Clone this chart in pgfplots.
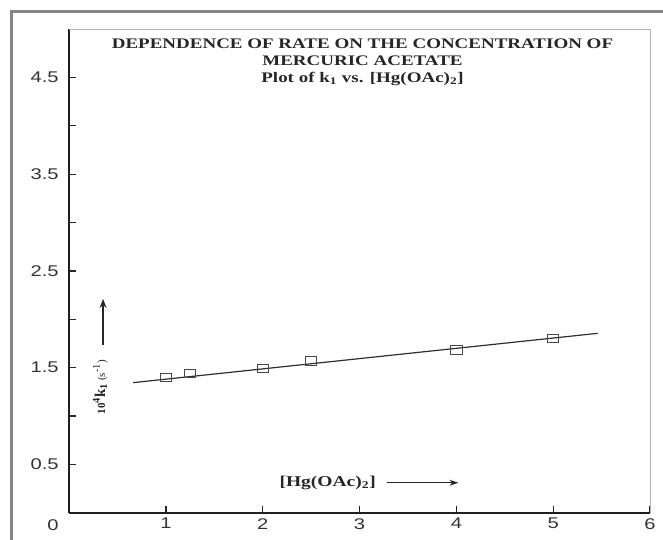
\documentclass[border=0pt]{standalone}
\usepackage{fontspec}
\setmainfont{Liberation Serif}
\newfontfamily\arial{Liberation Sans}
\usepackage{graphicx}
\usepackage{pgfplots}
\pgfplotsset{compat=1.18}
\usetikzlibrary{arrows.meta}
\newcommand\sx[1]{\scalebox{1.3}[1]{#1}}
\begin{document}
\begin{tikzpicture}[x=1pt,y=1pt]
\useasboundingbox (-69.2,-26.3) rectangle (593.8,512.7);
\draw[line width=3pt, black!48] (-57.2,-60) -- (-57.2,500.7) -- (640,500.7);
\begin{axis}[
  at={(0,0)}, anchor=south west,
  scale only axis, width=580.8pt, height=483.5pt,
  xmin=0, xmax=6, ymin=0, ymax=5,
  axis x line*=bottom, axis y line*=left,
  axis line style={line width=1.8pt, black!88},
  xtick={1,2,3,4,5,6},
  xticklabels={\sx{1},\sx{2},\sx{3},\sx{4},\sx{5},\sx{6}},
  ytick={0.5,1,1.5,2,2.5,3,3.5,4,4.5,5},
  yticklabels={\sx{0.5},,\sx{1.5},,\sx{2.5},,\sx{3.5},,\sx{4.5},},
  extra y ticks={0}, extra y tick labels={\sx{0}},
  extra y tick style={major tick length=0pt, yticklabel style={yshift=-12pt}},
  tick style={line width=1.1pt, black!85}, major tick length=7pt, tick align=inside,
  ticklabel style={font=\arial\fontsize{15.5}{15.5}\selectfont, text=black!80},
  yticklabel style={xshift=-7pt},
  xticklabel style={yshift=-2pt},
  clip=false,
]
\addplot[no markers, line width=1.2pt, black!82] coordinates {(0.66,1.345) (5.46,1.855)};
\addplot[only marks, mark=square, mark size=4.3pt, mark options={xscale=1.3, line width=0.9pt, draw=black!72, fill=none}] coordinates {(1,1.40) (1.25,1.44) (2,1.49) (2.5,1.57) (4,1.68) (5,1.80)};
\draw[black!30, line width=0.8pt] (rel axis cs:0,1) -- (rel axis cs:1,1) -- (rel axis cs:1,0);
\node[align=center, font=\bfseries\fontsize{14.6}{17}\selectfont, text=black!85] at (axis cs:3.03,4.66)
  {\sx{DEPENDENCE OF RATE ON THE CONCENTRATION OF}\\ \sx{MERCURIC ACETATE}\\ \sx{Plot of k\textsubscript{1} vs. [Hg(OAc)\textsubscript{2}]}};
\node[rotate=90, font=\bfseries\fontsize{15}{15}\selectfont, text=black!85] at (axis cs:0.32,1.30)
  {{\fontsize{11}{11}\selectfont 10}\textsuperscript{4}k\textsubscript{1}\,{\mdseries\fontsize{11}{11}\selectfont(s}\textsuperscript{\mdseries -1}{\mdseries\fontsize{11}{11}\selectfont)}};
\draw[-{Stealth[length=9pt,width=7pt]}, line width=1.3pt, black!85] (axis cs:0.35,1.73) -- (axis cs:0.35,2.21);
\node[font=\bfseries\fontsize{15}{15}\selectfont, text=black!85] at (axis cs:2.67,0.31) {\sx{[Hg(OAc)\textsubscript{2}]}};
\draw[-{Stealth[length=9pt,width=6pt]}, line width=1.1pt, black!85] (axis cs:3.28,0.31) -- (axis cs:4.02,0.31);
\end{axis}
\end{tikzpicture}
\end{document}
